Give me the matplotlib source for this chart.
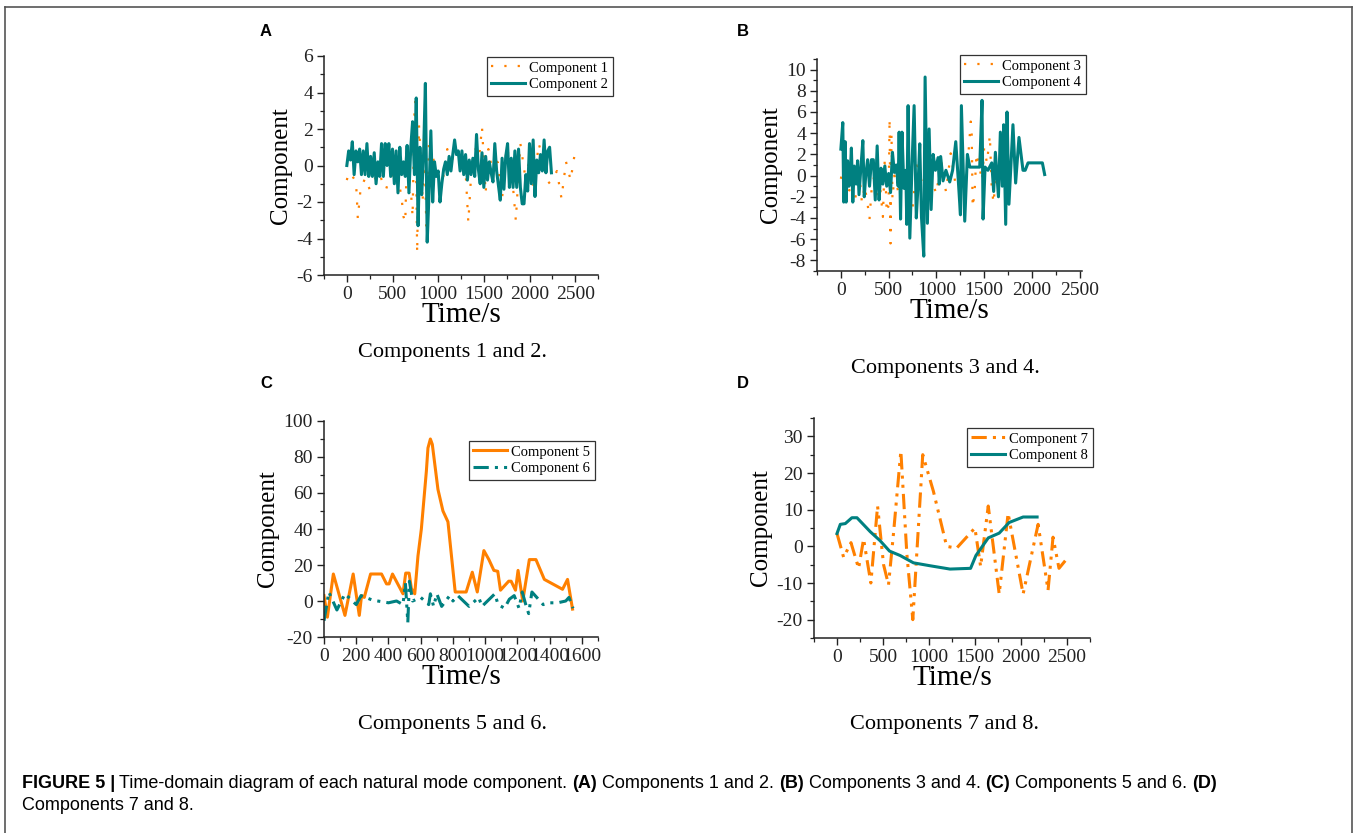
import numpy as np
import matplotlib
matplotlib.use('Agg')
import matplotlib.pyplot as plt
from matplotlib.ticker import MultipleLocator
from matplotlib.lines import Line2D

TEAL = '#008080'
ORANGE = '#FF8000'

# ---- panel A ----
t1 = [0, 20, 50, 100, 110, 120, 150, 200, 250, 300, 350, 400, 430, 460, 500, 550,
      600, 620, 640, 660, 680, 700, 720, 740, 750, 770, 790, 810, 830, 850, 870, 900,
      950, 1000, 1050, 1100, 1150, 1200, 1250, 1300, 1330, 1360, 1400, 1450, 1480,
      1520, 1550, 1600, 1650, 1700, 1750, 1800, 1850, 1900, 1950, 2000, 2050, 2100,
      2150, 2200, 2250, 2300, 2350, 2400, 2450, 2500]
v1 = [-0.8, -0.4, -0.5, -0.9, -1.8, -2.9, -1.3, -0.7, -1.3, -0.8, -0.4, -1.0, -1.3,
      -0.8, -0.5, -0.3, -1.8, -2.8, -3.1, 1.2, -1.5, -1.3, -2.8, 2.8, 3.5, -4.8, 2.2,
      0.3, -2.0, 1.5, -3.3, 1.4, 0.3, -0.4, -0.8, 0.9, 0.3, 0.8, 0.0, -0.3, -3.1, -0.6,
      1.0, 0.5, 2.1, -1.5, 0.9, -0.5, 0.2, -1.8, 1.0, 0.0, -3.0, 1.2, -0.5, 0.2, -1.3,
      1.2, 0.4, -1.0, -0.8, -0.3, -1.8, 0.2, -0.8, 0.8]

t2 = np.arange(0, 2241, 20)
v2 = [0.0, 0.8, 0.3, 1.3, -0.5, 0.8, 0.2, 0.9, -0.5, 0.8, -0.5, 1.2, -0.6, 0.5, -0.6,
      0.7, -1.0, 0.2, -0.6, 1.2, -0.6, 1.2, 0.0, 1.2, -0.6, 0.9, -1.0, 0.8, -1.5, 1.0,
      -0.5, 0.2, -0.6, 1.1, -1.5, 1.0, 2.4, -0.5, 3.7, -3.3, 1.0, -1.6, 0.6, 4.5, -4.2,
      -1.5, 1.9, -2.0, 0.2, -0.6, -0.3, -2.0, -1.0, -0.2, 0.2, -0.5, 0.5, -0.3, 0.6,
      1.4, 0.6, 0.8, -0.3, 0.8, -0.5, 0.6, -0.8, 0.3, -0.5, 0.4, -0.6, 1.7, -0.2, -1.0,
      0.7, -1.2, 0.5, -0.8, 0.2, -0.4, -0.9, 1.2, -0.3, -1.1, -1.9, 0.4, -1.3, 0.5,
      1.2, -1.2, 0.4, -1.2, 0.8, -1.2, 0.9, -1.2, -2.1, -2.1, -0.5, -1.4, 1.2, -1.0,
      1.4, -1.7, 0.3, -0.4, 0.6, -0.3, 1.4, -0.4, 0.8, 1.0, -0.4]

# ---- panel B ----
t3 = [0, 30, 60, 90, 110, 130, 160, 190, 220, 250, 280, 300, 320, 350, 380, 410, 440,
      460, 480, 500, 510, 520, 530, 540, 560, 600, 650, 700, 750, 800, 850, 900, 950,
      1000, 1050, 1100, 1150, 1200, 1250, 1300, 1340, 1360, 1370, 1380, 1400, 1420,
      1450, 1480, 1500, 1530, 1560, 1580, 1600, 1620]
v3 = [-0.3, 1.0, -1.2, -1.4, 0.8, -2.6, -1.8, 0.4, -2.5, -1.0, -2.7, -4.1, -1.5, 0.0,
      -2.0, -1.0, -3.9, 1.7, -3.5, -2.8, 5.4, -6.4, 4.0, -2.2, 0.0, -1.5, 0.5, -1.0,
      -3.1, 1.5, -0.8, 0.5, -0.5, -1.7, 1.4, -1.5, 2.1, -0.8, 0.3, -1.5, 2.6, 5.1, 3.9,
      -3.0, -1.6, 2.1, 0.8, -0.5, 2.6, 1.2, 3.8, -1.3, -2.6, 0.0]

t4 = [0, 20, 30, 45, 55, 70, 85, 100, 110, 125, 140, 160, 175, 190, 210, 230, 245, 260,
      280, 300, 320, 340, 360, 380, 400, 420, 440, 460, 480, 500, 520, 540, 560, 580,
      600, 610, 625, 640, 660, 680, 690, 704, 722, 745, 767, 790, 810, 826, 844, 868,
      882, 906, 924, 945, 966, 990, 1018, 1030, 1045, 1070, 1100, 1140, 1170, 1203,
      1230, 1252, 1262, 1297, 1325, 1350, 1400, 1454, 1478, 1489, 1510, 1540, 1580,
      1600, 1618, 1650, 1670, 1690, 1705, 1726, 1740, 1760, 1802, 1830, 1865, 1907,
      1930, 1960, 2110, 2134]
v4 = [2.5, 5.0, -2.5, 3.2, -2.5, 1.4, -1.0, 0.5, 2.6, -2.5, 0.9, -0.8, 1.4, -1.8, 0.8,
      3.3, -2.0, 0.0, 1.5, -1.0, 1.5, 1.5, -2.3, 2.8, -2.3, 0.7, -0.8, 0.9, -1.0, 0.2,
      -1.6, 2.2, 0.3, 1.0, -1.0, 4.1, -4.1, 4.1, -1.2, 0.5, -4.6, 6.6, -5.9, 1.0, 6.6,
      -4.0, -0.5, 3.0, -3.9, -7.6, 9.3, -4.5, 4.4, -3.2, 2.0, 0.5, 1.7, -0.8, 1.8, -0.5,
      0.5, -0.6, 0.5, 3.2, -0.5, -3.7, 6.6, -4.3, 2.0, 0.8, 0.8, 0.8, 7.1, -4.1, 0.8,
      0.5, 1.2, -1.5, 2.2, -2.0, 4.1, -1.0, 4.8, -4.6, 6.0, -2.7, 4.8, -0.7, 3.6, 0.5,
      0.5, 1.2, 1.2, 0.1]

# ---- panel C ----
t5 = [0, 21, 58, 130, 181, 219, 233, 250, 289, 357, 388, 404, 425, 490, 507, 528, 542,
      563, 583, 604, 635, 645, 660, 672, 707, 738, 769, 814, 882, 920, 951, 992, 1023,
      1054, 1078, 1095, 1146, 1161, 1188, 1204, 1233, 1274, 1315, 1367, 1480, 1511, 1542]
v5 = [3, -9, 15, -8, 15, -8, 3, 2, 15, 15, 9.5, 9.5, 15, 4, 15.5, 15.5, 7, 4, 25, 40,
      72, 85, 90, 87, 62, 50, 44, 5, 5, 16, 5, 28, 23, 17, 16.5, 6, 11, 11, 6, 17, 0, 23,
      23, 12, 6.5, 12, -4.5]

t6 = [0, 30, 80, 130, 200, 230, 300, 400, 450, 490, 505, 520, 530, 550, 600, 650, 660,
      680, 700, 730, 780, 800, 830, 900, 960, 980, 1060, 1080, 1120, 1150, 1180, 1210,
      1230, 1255, 1270, 1290, 1320, 1360, 1400, 1450, 1500, 1520, 1545]
v6 = [-11, 5, -5, 4, -2, 3, 0.5, -1, 0, -2, 10, -12, 11, 0, 2, -2, 4, -3, 4, -3, 3, 0,
      3, -3, 2, -3, 4, -2, -4, 1, 3, -4, 5, -3, -7, 5, 2, -2, -1, -1, 0, 2, -4]

# ---- panel D ----
t7 = [0, 72, 152, 235, 289, 368, 441, 506, 560, 614, 694, 759, 824, 932, 1048, 1192,
      1300, 1499, 1561, 1644, 1763, 1860, 2023, 2186, 2294, 2348, 2413, 2511]
v7 = [3.5, -3, 1, -6, 2, -10, 11, -5, -10.5, 3.5, 26, -2, -20, 25, 15, 0, -0.5, 5,
      -5.5, 11, -13, 9, -13, 6, -12, 2.5, -6, -3]

t8 = [0, 36, 90, 162, 217, 361, 470, 571, 686, 831, 1012, 1228, 1452, 1510, 1644,
      1763, 1871, 2023, 2175]
v8 = [3.5, 6, 6.2, 7.8, 7.8, 4, 1.5, -1.3, -2.5, -4.5, -5.3, -6.2, -6.0, -2.5, 2.3,
      3.6, 6.5, 8, 8]

W, H = 1359, 833
plt.rcParams['font.family'] = 'Liberation Serif'
plt.rcParams['axes.unicode_minus'] = False
fig = plt.figure(figsize=(W / 100, H / 100), dpi=100)


def px_axes(l, t, r, b):
    return fig.add_axes([l / W, 1 - b / H, (r - l) / W, (b - t) / H])


def style(ax, xlim, ylim, xmin, ymin, xticks, yticks):
    ax.set_xlim(*xlim)
    ax.set_ylim(*ylim)
    ax.set_xticks(xticks)
    ax.set_yticks(yticks)
    ax.xaxis.set_minor_locator(MultipleLocator(xmin))
    ax.yaxis.set_minor_locator(MultipleLocator(ymin))
    for s in ['top', 'right']:
        ax.spines[s].set_visible(False)
    for s in ['left', 'bottom']:
        ax.spines[s].set_linewidth(1.1)
        ax.spines[s].set_color('#222222')
    ax.tick_params(which='major', direction='out', length=5, width=1.0,
                   labelsize=14, colors='#222222', pad=3)
    ax.tick_params(which='minor', direction='out', length=3, width=0.9, colors='#222222')
    ax.set_xlabel('Time/s', fontsize=21, labelpad=-1)
    ax.set_ylabel('Component', fontsize=18, labelpad=3)


def leg(ax, x, y):
    lg = ax.legend(loc='upper left', bbox_to_anchor=(x / W, 1 - y / H),
                   bbox_transform=fig.transFigure, fontsize=10.5, frameon=True,
                   fancybox=False, edgecolor='#333333', framealpha=1,
                   handlelength=2.3, handletextpad=0.3, labelspacing=0.25,
                   borderpad=0.3, borderaxespad=0)
    lg.get_frame().set_linewidth(0.9)


dotted = (0, (1, 5))
dashdotdot = (0, (5, 2, 1, 2, 1, 2))

# A
axA = px_axes(324, 56, 598, 275)
axA.plot(t1, v1, color=ORANGE, lw=1.6, linestyle=dotted, label='Component 1')
axA.plot(t2, v2, color=TEAL, lw=2.2, label='Component 2')
style(axA, (-250, 2750), (-6, 6), 250, 1,
      [0, 500, 1000, 1500, 2000, 2500], [-6, -4, -2, 0, 2, 4, 6])
leg(axA, 487, 57)

# B
axB = px_axes(817, 59, 1082, 271)
axB.plot(t3, v3, color=ORANGE, lw=1.6, linestyle=dotted, label='Component 3')
axB.plot(t4, v4, color=TEAL, lw=2.2, label='Component 4')
style(axB, (-250, 2525), (-9, 11), 250, 1,
      [0, 500, 1000, 1500, 2000, 2500], [-8, -6, -4, -2, 0, 2, 4, 6, 8, 10])
leg(axB, 960, 55)

# C
axC = px_axes(324, 421, 598, 637)
axC.plot(t5, v5, color=ORANGE, lw=2.2, label='Component 5')
axC.plot(t6, v6, color=TEAL, lw=2.2, linestyle=dashdotdot, label='Component 6')
style(axC, (0, 1700), (-20, 100), 100, 10,
      list(range(0, 1601, 200)), list(range(-20, 101, 20)))
leg(axC, 469, 441)

# D
axD = px_axes(814, 418, 1090, 638)
axD.plot(t7, v7, color=ORANGE, lw=2.2, linestyle=dashdotdot, label='Component 7')
axD.plot(t8, v8, color=TEAL, lw=2.2, label='Component 8')
style(axD, (-250, 2750), (-25, 35), 250, 5,
      [0, 500, 1000, 1500, 2000, 2500], [-20, -10, 0, 10, 20, 30])
leg(axD, 967, 428)

# panel letters and sub-captions
for lx, ly, letter in [(260, 32, 'A'), (737, 32, 'B'), (260, 383, 'C'), (737, 383, 'D')]:
    fig.text(lx / W, 1 - ly / H, letter, fontsize=12, fontweight='bold',
             family='Liberation Sans', ha='left', va='center')

for cx, cy, s in [(453, 352, 'Components 1 and 2.'), (945, 368, 'Components 3 and 4.'),
                  (453, 725, 'Components 5 and 6.'), (945, 725, 'Components 7 and 8.')]:
    fig.text(cx / W, 1 - cy / H, s, fontsize=16, ha='center', va='center')

# figure caption
cap_size = 13
cap_y1 = 1 - 783 / H
t_bold = fig.text(22 / W, cap_y1, 'FIGURE 5 |', fontsize=cap_size, fontweight='bold',
                  family='Liberation Sans', ha='left', va='center')
fig.canvas.draw()
x_cur = t_bold.get_window_extent().x1 + 4
parts = [('Time-domain diagram of each natural mode component. ', 'normal'),
         ('(A)', 'bold'), (' Components 1 and 2. ', 'normal'),
         ('(B)', 'bold'), (' Components 3 and 4. ', 'normal'),
         ('(C)', 'bold'), (' Components 5 and 6. ', 'normal'),
         ('(D)', 'bold')]
for s, w in parts:
    tx = fig.text(x_cur / W, cap_y1, s, fontsize=cap_size, fontweight=w,
                  family='Liberation Sans', ha='left', va='center')
    fig.canvas.draw()
    x_cur = tx.get_window_extent().x1
fig.text(22 / W, 1 - 806 / H, 'Components 7 and 8.', fontsize=cap_size,
         family='Liberation Sans', ha='left', va='center')

# outer frame (open at bottom)
for xs, ys in [([5, 5], [7, 840]), ([5, 1352], [7, 7]), ([1352, 1352], [7, 840])]:
    fig.add_artist(Line2D([x / W for x in xs], [1 - y / H for y in ys],
                          color='#555555', lw=1.2, transform=fig.transFigure))

fig.savefig('out.png', dpi=100)
